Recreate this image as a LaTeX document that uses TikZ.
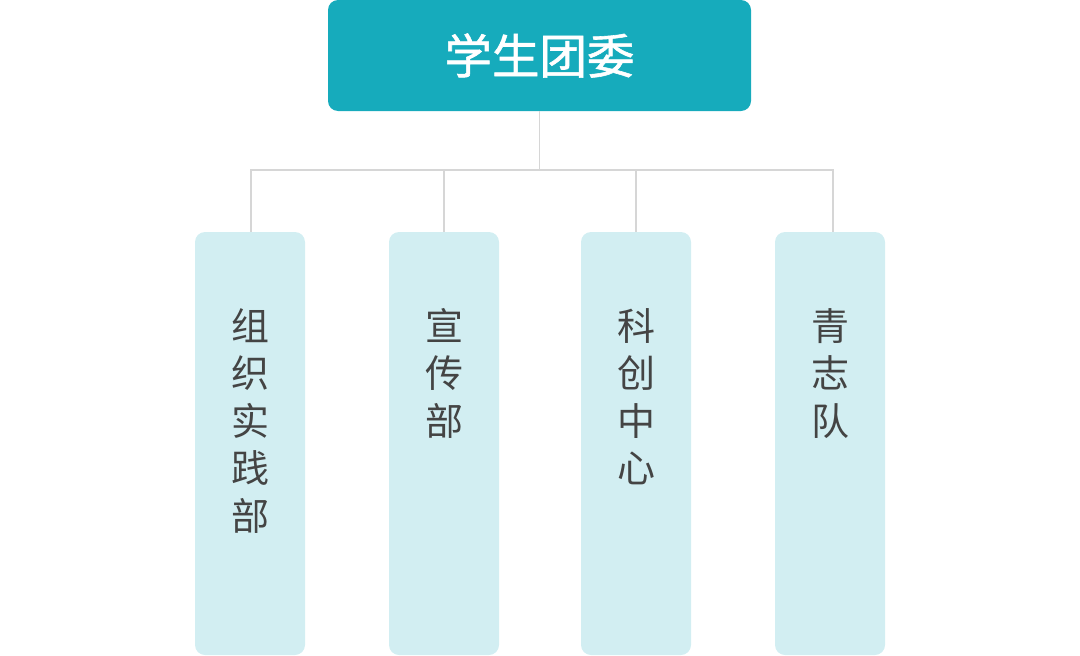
\documentclass[tikz,border=0pt]{standalone}
\usepackage{fontspec}
\newfontfamily\cjk{Noto Sans CJK SC}
\newfontfamily\cjkb[FakeBold=1.2]{Noto Sans CJK SC}
\definecolor{teal1}{HTML}{16ABBC}
\definecolor{lightbox}{HTML}{D2EEF2}
\definecolor{linegray}{HTML}{D6D6D6}
\definecolor{txtgray}{HTML}{444444}
\begin{document}
\begin{tikzpicture}[x=1pt,y=-1pt,
  topbox/.style={fill=teal1,rounded corners=10pt,draw=none,inner sep=0pt,
    minimum width=423pt,minimum height=111pt},
  subbox/.style={fill=lightbox,rounded corners=10pt,draw=none,inner sep=0pt,
    minimum width=110pt,minimum height=423pt},
  conn/.style={draw=linegray,line width=1.6pt},
  subtext/.style={anchor=north,inner sep=0pt,align=center,text=txtgray,
    font=\cjk\fontsize{38}{47.5}\selectfont},
  toptext/.style={inner sep=0pt,text=white,font=\cjkb\fontsize{47.5}{50}\selectfont}]
\useasboundingbox (0,0) rectangle (1080,656);
% top box
\node[topbox] (top) at (539.5,55.5) {};
\node[toptext] (toplabel) at (539.5,55.5) {学生团委};
\coordinate (hub) at (539.5,170);
% sub boxes
\node[subbox] (boxa) at (250,443.5) {};
\node[subbox] (boxb) at (444,443.5) {};
\node[subbox] (boxc) at (636,443.5) {};
\node[subbox] (boxd) at (830,443.5) {};
\node[subtext] (ta) at (250,308) {组\\织\\实\\践\\部};
\node[subtext] (tb) at (444,308) {宣\\传\\部};
\node[subtext] (tc) at (636,308) {科\\创\\中\\心};
\node[subtext] (td) at (830,308) {青\\志\\队};
\coordinate (dtop) at ([xshift=3pt]boxd.north);
\coordinate (atop) at ([xshift=1pt]boxa.north);
% connectors
\draw[conn] (top.south) -- (hub);
\draw[conn] (atop) |- (hub) -| (dtop);
\draw[conn] (boxb.north) -- (boxb.north |- hub);
\draw[conn] (boxc.north) -- (boxc.north |- hub);
\end{tikzpicture}
\end{document}
